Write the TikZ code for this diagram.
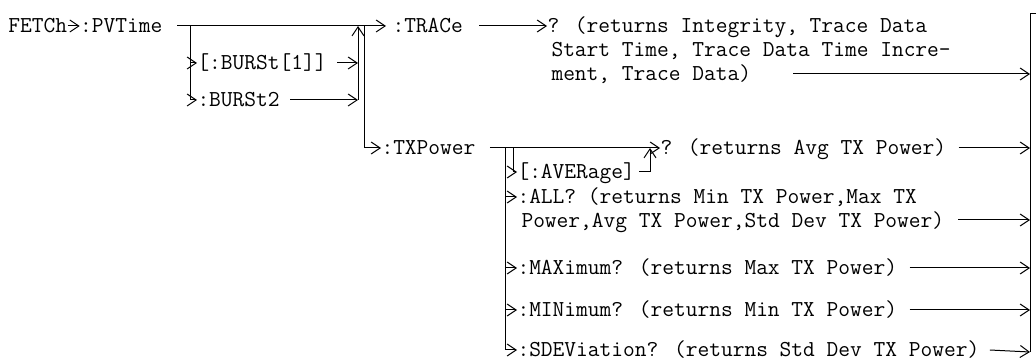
\documentclass[tikz,border=0pt]{standalone}
\usepackage{fontspec}
\usetikzlibrary{arrows.meta,positioning}
\tikzset{
  kw/.style={font=\ttfamily\fontsize{11.4}{12}\selectfont, inner sep=0pt, anchor=west, text height=9pt, text depth=2pt},
  note/.style={font=\ttfamily\fontsize{11.4}{12}\selectfont, inner sep=0pt, anchor=north west, align=left},
  >={Straight Barb[length=4.5pt,width=6pt]}
}
\begin{document}
\begin{tikzpicture}[x=0.5pt, y=-0.5pt, line width=0.5pt]
\useasboundingbox (0,0) rectangle (1036,362);
% keywords and queries
\node[kw] (fetch) at (8,26) {FETCh};
\node[kw, right=6pt of fetch] (pvtime) {:PVTime};
\node[kw] (burst1) at (197,63) {[:BURSt[1]]};
\node[kw] (burst2) at (197,100) {:BURSt2};
\node[kw] (trace) at (392,26) {:TRACe};
\node[note] (traceq) at (547,16) {? (returns Integrity, Trace Data\\\hspace*{2pt}Start Time, Trace Data Time Incre-\\\hspace*{2pt}ment, Trace Data)};
\node[kw] (txpower) at (381,148) {:TXPower};
\node[kw] (avgq) at (660,148) {? (returns Avg TX Power)};
\node[kw] (average) at (517,172) {[:AVERage]};
\node[note] (allq) at (517,187) {:ALL? (returns Min TX Power,Max TX\\\hspace*{2pt}Power,Avg TX Power,Std Dev TX Power)};
\node[kw] (maxq) at (517,268) {:MAXimum? (returns Max TX Power)};
\node[kw] (minq) at (517,310) {:MINimum? (returns Min TX Power)};
\node[kw] (sdev) at (517,350) {:SDEViation? (returns Std Dev TX Power)};
% junction points
\coordinate (pvout) at (177,26);
\coordinate (split) at (190,26);
\coordinate (merge) at (358,26);
\coordinate (drop) at (364,26);
\coordinate (txsplit) at (505,148);
\coordinate (avsplit) at (513,148);
\coordinate (avjoin) at (650,148);
\coordinate (allrow) at (505,197);
\coordinate (allout) at (958,220);
\coordinate (traceout) at (793,74);
\coordinate (bartop) at (1030,14);
\coordinate (barbot) at (1030,352);
% first level
\draw[->] (fetch) -- (pvtime);
\draw[->, shorten >=3pt] (pvout) -- (trace);
\draw[->] (split |- burst1) -- (burst1);
\draw[->] (split) |- (burst2);
\draw[->] ([xshift=5pt]burst1.east) -- (merge |- burst1);
\draw[->] ([xshift=5pt]burst2.east) -- (merge |- burst2);
\draw[->] (merge |- burst2) -- (merge);
\draw[->] (drop) |- (txpower);
\draw[->] ([xshift=8pt]trace.east) -- (traceq.north west |- trace);
\draw[->] (traceout) -- (bartop |- traceout);
% TXPower branches
\draw[->] ([xshift=7pt]txpower.east) -- (avgq);
\draw[->] (avsplit) |- (average);
\draw[->] ([xshift=2pt]average.east) -| (avjoin);
\draw[->] ([xshift=6pt]avgq.east) -- (bartop |- avgq);
\draw[->] (allrow) -- (allrow -| allq.west);
\draw[->] (allout) -- (bartop |- allout);
\draw[->] (txsplit |- maxq) -- (maxq);
\draw[->] (txsplit |- minq) -- (minq);
\draw[->] (txsplit) |- (sdev);
\draw[->] ([xshift=6pt]maxq.east) -- (bartop |- maxq);
\draw[->] ([xshift=6pt]minq.east) -- (bartop |- minq);
\draw[->] ([xshift=5pt]sdev.east) -- (barbot);
% closing bar
\draw (1036,14) -- (bartop) -- (barbot);
\end{tikzpicture}
\end{document}
